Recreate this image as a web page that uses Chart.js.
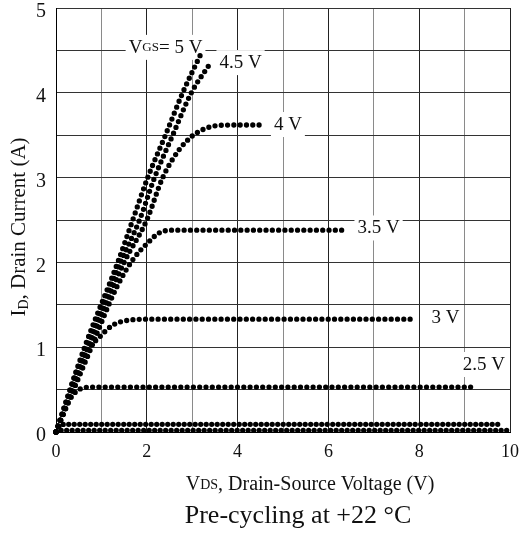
<!DOCTYPE html>
<html>
<head>
<meta charset="utf-8">
<script src="https://cdn.jsdelivr.net/npm/chart.js@4"></script>
<style>
  html, body { margin: 0; padding: 0; background: #fff; }
  #wrap { width: 521px; height: 535px; }
</style>
</head>
<body>
<div id="wrap"><canvas id="ivChart" width="521" height="535"></canvas></div>
<script>
// I-V curves (V in volts, A in amps)
const vds5 = [0, 0.63, 1.36, 1.69, 2.02, 2.41, 2.79, 3.21];
const id5 = [0, 1.0, 2.0, 2.5, 3.0, 3.5, 4.0, 4.48];

const vds45 = [0, 0.68, 1.42, 1.84, 2.17, 2.57, 2.98, 3.40];
const id45 = [0, 1.0, 2.0, 2.5, 3.0, 3.5, 4.0, 4.35];

const vds4 = [0, 0.72, 1.5, 2.0, 2.35, 2.7, 3.0, 3.25, 3.5, 3.9, 4.57];
const id4 = [0, 1.0, 2.0, 2.5, 3.0, 3.32, 3.49, 3.57, 3.61, 3.62, 3.62];

const vds35 = [0, 0.78, 1.33, 1.69, 2.02, 2.28, 2.6, 3.0, 6.42];
const id35 = [0, 1.0, 1.7, 2.03, 2.23, 2.35, 2.38, 2.38, 2.38];

const vds3 = [0, 0.6, 0.96, 1.25, 1.62, 2.0, 7.92];
const id3 = [0, 0.9, 1.12, 1.26, 1.32, 1.33, 1.33];

const vds25 = [0, 0.3, 0.45, 0.6, 0.8, 9.14];
const id25 = [0, 0.38, 0.48, 0.52, 0.53, 0.53];

const vds2 = [0, 0.1, 0.2, 9.85];
const id2 = [0, 0.08, 0.09, 0.09];

const vdsLow = [0, 0.1, 9.95];
const idLow = [0, 0.02, 0.02];

const xTickLabels = [0, 2, 4, 6, 8, 10];
const yTickLabels = [0, 1, 2, 3, 4, 5];

// curve labels, placed in data units
const curveLabels = [
  { runs: [["V", 19], ["GS", 13], ["= 5 V", 19]], x: 1.6, y: 4.53 },
  { runs: [["4.5 V", 19]], x: 3.6, y: 4.35 },
  { runs: [["4 V", 19]], x: 4.8, y: 3.62 },
  { runs: [["3.5 V", 19]], x: 6.64, y: 2.4 },
  { runs: [["3 V", 19]], x: 8.27, y: 1.34 },
  { runs: [["2.5 V", 19]], x: 8.96, y: 0.79 }
];

const FONT = "'Liberation Serif', 'Times New Roman', serif";

function toPoints(xs, ys) {
  return xs.map((x, i) => ({ x: x, y: ys[i] }));
}

function dotted(xs, ys, gap) {
  return {
    data: toPoints(xs, ys),
    borderColor: "#000",
    borderWidth: 5.3,
    borderCapStyle: "round",
    borderDash: [0, gap || 6.3],
    pointRadius: 0,
    cubicInterpolationMode: "monotone",
    fill: false,
    clip: false
  };
}

// draws mixed size text (for the small GS / DS parts)
function runsWidth(ctx, runs) {
  let w = 0;
  runs.forEach(r => {
    ctx.font = r[1] + "px " + FONT;
    w += ctx.measureText(r[0]).width;
  });
  return w;
}

function drawRuns(ctx, runs, x, y) {
  let cx = x;
  runs.forEach(r => {
    ctx.font = r[1] + "px " + FONT;
    ctx.fillText(r[0], cx, y + (r[2] || 0));
    cx += ctx.measureText(r[0]).width;
  });
}

const textPlugin = {
  id: "textPlugin",
  // curve labels go over the grid but under the dots
  beforeDatasetsDraw(chart) {
    const ctx = chart.ctx;
    const xs = chart.scales.x, ys = chart.scales.y;
    ctx.save();
    ctx.textBaseline = "middle";
    ctx.textAlign = "left";
    curveLabels.forEach(lbl => {
      const px = xs.getPixelForValue(lbl.x);
      const py = ys.getPixelForValue(lbl.y);
      const w = runsWidth(ctx, lbl.runs);
      ctx.fillStyle = "#fff";
      ctx.fillRect(px - 3, py - 13, w + 6, 25);
      ctx.fillStyle = "#111";
      drawRuns(ctx, lbl.runs, px, py);
    });
    ctx.restore();
  },
  afterDatasetsDraw(chart) {
    const ctx = chart.ctx;
    ctx.save();
    ctx.textBaseline = "middle";
    ctx.textAlign = "left";
    ctx.fillStyle = "#111";

    // x axis title
    const xt = [["V", 20], ["DS", 14], [", Drain-Source Voltage (V)", 20]];
    drawRuns(ctx, xt, 310 - runsWidth(ctx, xt) / 2, 485);

    // caption
    const cap = [["Pre-cycling at +22 \u00B0C", 26]];
    drawRuns(ctx, cap, 298 - runsWidth(ctx, cap) / 2, 516);

    // y axis title
    const yt = [["I", 21], ["D", 14, 5], [", Drain Current (A)", 21]];
    ctx.translate(19, 227);
    ctx.rotate(-Math.PI / 2);
    drawRuns(ctx, yt, -runsWidth(ctx, yt) / 2, 0);
    ctx.restore();
  }
};

Chart.defaults.font.family = FONT;
Chart.defaults.color = "#111";

const ctx = document.getElementById("ivChart").getContext("2d");
const chart = new Chart(ctx, {
  type: "line",
  data: {
    datasets: [
      dotted(vds5, id5),
      dotted(vds45, id45),
      dotted(vds4, id4),
      dotted(vds35, id35),
      dotted(vds3, id3),
      dotted(vds25, id25),
      dotted(vds2, id2, 5.5),
      dotted(vdsLow, idLow, 5.5)
    ]
  },
  options: {
    responsive: false,
    animation: false,
    layout: { padding: { top: 8, right: 11, left: 0, bottom: 0 } },
    plugins: {
      legend: { display: false },
      tooltip: { enabled: false }
    },
    scales: {
      x: {
        type: "linear",
        min: 0,
        max: 10,
        ticks: {
          stepSize: 1,
          padding: 9,
          maxRotation: 0,
          autoSkip: false,
          font: { size: 18 },
          callback: v => (xTickLabels.includes(v) ? String(v) : "")
        },
        grid: {
          drawTicks: false,
          color: c => (c.tick && c.tick.value % 2 ? "#8a8a8a" : "#222")
        },
        border: { color: "#000" },
        afterFit(scale) {
          scale.height = 103;
          scale.paddingLeft = 0;
          scale.paddingRight = 0;
        }
      },
      y: {
        min: 0,
        max: 5,
        ticks: {
          stepSize: 0.5,
          padding: 10,
          labelOffset: 4,
          autoSkip: false,
          font: { size: 20 },
          callback: v => (yTickLabels.includes(v) ? String(v) : "")
        },
        grid: {
          drawTicks: false,
          color: "#333"
        },
        border: { color: "#000" },
        afterFit(scale) {
          scale.width = 56;
          scale.paddingTop = 0;
          scale.paddingBottom = 0;
        }
      }
    }
  },
  plugins: [textPlugin]
});
</script>
</body>
</html>
